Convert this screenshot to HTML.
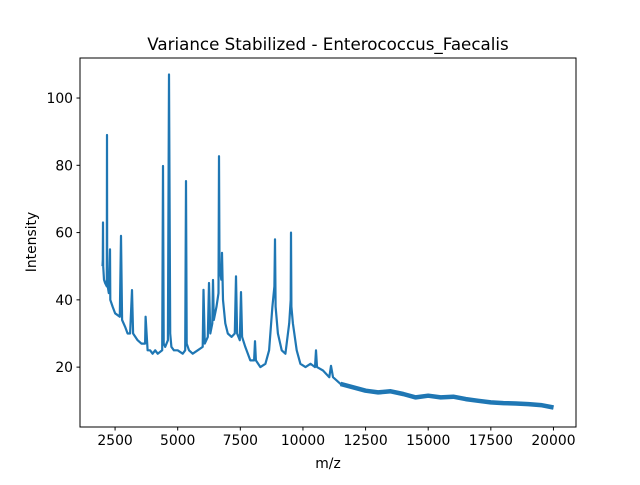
<!DOCTYPE html>
<html><head><meta charset="utf-8"><style>
body{margin:0;background:#fff}
svg text{font-family:"DejaVu Sans","Liberation Sans",sans-serif;fill:#000}
</style></head><body>
<svg id="chart" width="640" height="480">
<rect width="640" height="480" fill="#fff"/>
<text x="328" y="50" font-size="16.7" text-anchor="middle">Variance Stabilized - Enterococcus_Faecalis</text>
<g id="plot"></g>
<g id="xt"></g>
<g id="yt"></g>
<rect x="80" y="58" width="496" height="369" fill="none" stroke="#000" stroke-width="1"/>
<text x="328" y="468" font-size="13.9" text-anchor="middle">m/z</text>
<text transform="translate(36,242) rotate(-90)" font-size="13.9" text-anchor="middle">Intensity</text>
</svg>
<script>
const mz=[2000,2010,2018,2026,2060,2100,2170,2178,2186,2250,2298,2310,2400,2500,2690,2737,2780,2900,3000,3100,3176,3220,3400,3550,3700,3720,3800,3900,4000,4100,4200,4380,4413,4440,4500,4610,4653,4700,4750,4850,5000,5200,5300,5331,5360,5450,5600,5800,6000,6030,6080,6200,6250,6300,6380,6409,6440,6550,6630,6649,6670,6740,6770,6810,6900,7000,7150,7280,7327,7370,7480,7527,7570,7700,7900,8050,8086,8120,8300,8500,8650,8780,8860,8884,8910,9000,9150,9300,9450,9510,9523,9540,9600,9750,9900,10100,10300,10480,10521,10560,10800,11050,11120,11200,11500,12000,12500,13000,13500,14000,14500,15000,15500,16000,16500,17000,17500,18000,18500,19000,19500,20000];
const inten=[50,52,63,50,46,45,44,89,45,42,55,40,38,36,35,59,34,32,30,30,42.9,30,28,27,27,35,25,25,24,25,24,25,79.8,27,26,28,107,30,26,25,25,24,25,75.3,27,25,24,25,26,43,27,29,45,30,33,45.9,34,38,42,82.7,50,46,54,40,33,30,29,30,47,30,28,42.3,29,26,22,22,27.7,22,20,21,25,38,44,58,38,30,25,24,33,40,60,38,33,25,21,20,21,20,25,20,19,17,20.4,17,15,14,13,12.5,12.8,12,11,11.5,11,11.2,10.5,10,9.5,9.3,9.2,9,8.7,8];
const xTicks=[2500,5000,7500,10000,12500,15000,17500,20000];
const yTicks=[20,40,60,80,100];
const X0=1100,X1=20900,Y0=2.2,Y1=111.9;
const sx=v=>80+(v-X0)/(X1-X0)*496;
const sy=v=>427-(v-Y0)/(Y1-Y0)*369;
const NS='http://www.w3.org/2000/svg';
function mk(t,a,p){const e=document.createElementNS(NS,t);for(const k in a)e.setAttribute(k,a[k]);p.appendChild(e);return e;}
const plot=document.getElementById('plot');
let d='',dt='';
for(let i=0;i<mz.length;i++){
  const pt=sx(mz[i]).toFixed(1)+','+sy(inten[i]).toFixed(1);
  d+=(i?'L':'M')+pt;
  if(mz[i]>=11500)dt+=(dt?'L':'M')+pt;
}
const line=mk('path',{d:d,fill:'none',stroke:'#1f77b4','stroke-width':2.2,'stroke-linejoin':'round'},plot);


const band=mk('path',{d:dt,fill:'none',stroke:'#1f77b4','stroke-width':4.5,'stroke-linejoin':'round'},plot);


const xt=document.getElementById('xt');
xTicks.forEach(v=>{
  const x=sx(v);
  const t=mk('line',{x1:x,x2:x,y1:427,y2:430.5,stroke:'#000'},xt);
  
  
  const l=mk('text',{x:x,y:445,'font-size':13.9,'text-anchor':'middle'},xt);
  l.textContent=v;
  
  
});
const yt=document.getElementById('yt');
yTicks.forEach(v=>{
  const y=sy(v);
  const t=mk('line',{x1:76.5,x2:80,y1:y,y2:y,stroke:'#000'},yt);
  
  
  const l=mk('text',{x:73,y:y+5,'font-size':13.9,'text-anchor':'end'},yt);
  l.textContent=v;
  
  
});
</script>
</body></html>
